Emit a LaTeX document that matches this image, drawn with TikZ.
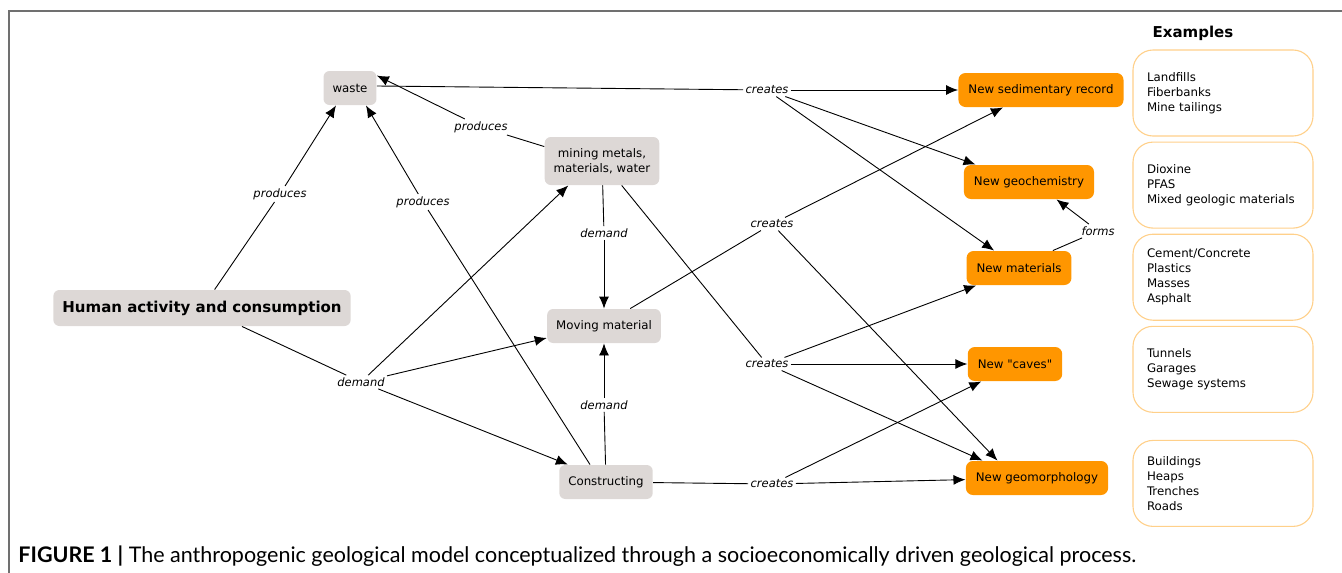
\documentclass[tikz,border=0pt]{standalone}
\usepackage{fontspec}
\setmainfont{DejaVu Sans}
\newfontfamily\capfont{Lato}
\usetikzlibrary{positioning, arrows.meta}
\definecolor{boxgray}{HTML}{DDD8D6}
\definecolor{neworange}{HTML}{FF9600}
\definecolor{exborder}{HTML}{FFD08A}
\definecolor{framegray}{HTML}{707070}

\begin{document}
\begin{tikzpicture}[x=1pt, y=-1pt, font=\fontsize{11.8}{15}\selectfont, line width=0.9pt]
	\tikzstyle{arrowline}=[draw, -{Latex[length=12pt, width=10pt]}]
	\tikzstyle{plainline}=[draw]
	\tikzstyle{gbox}=[fill=boxgray, rounded corners=6pt, inner xsep=9pt, minimum height=34pt, align=center]
	\tikzstyle{obox}=[fill=neworange, rounded corners=7pt, inner xsep=10pt, minimum height=34pt]
	\tikzstyle{exbox}=[draw=exborder, line width=1.1pt, rounded corners=20pt, text width=152pt, inner xsep=14pt, minimum height=86pt, align=left]
	\tikzstyle{lbl}=[font=\itshape\fontsize{11.5}{13}\selectfont, fill=white, inner sep=2pt]

	\useasboundingbox (0,0) rectangle (1342,573);
	\draw[framegray, line width=1.4pt] (1342,11) -- (9,11) -- (9,573);

	% activity side
	\node[gbox] (waste) at (350,88) {waste};
	\node[gbox, minimum height=48pt] (mining) at (602,161) {mining metals,\\ materials, water};
	\node[gbox, font=\bfseries\fontsize{15}{17}\selectfont, minimum height=36pt] (human) at (202,308) {Human activity and consumption};
	\node[gbox] (moving) at (604,326) {Moving material};
	\node[gbox] (constr) at (606,482) {Constructing};

	% new geology
	\node[obox] (sedim) at (1041,90) {New sedimentary record};
	\node[obox] (geochem) at (1029,182) {New geochemistry};
	\node[obox] (materials) at (1019,268) {New materials};
	\node[obox] (caves) at (1015,364) {New \textquotedbl caves\textquotedbl};
	\node[obox] (geomorph) at (1037,478) {New geomorphology};

	% examples
	\node[exbox] (ex1) at (1223,93) {Landfills\\Fiberbanks\\Mine tailings\\[14pt]};
	\node[exbox, below = 5pt of ex1] (ex2) {Dioxine\\PFAS\\Mixed geologic materials};
	\node[exbox, below = 5pt of ex2] (ex3) {Cement/Concrete\\Plastics\\Masses\\Asphalt};
	\node[exbox, below = 5pt of ex3] (ex4) {Tunnels\\Garages\\Sewage systems};
	\node[exbox, below = 27pt of ex4] (ex5) {Buildings\\Heaps\\Trenches\\Roads};
	\node[font=\bfseries\fontsize{15}{17}\selectfont, above = 5pt of ex1, xshift=-30pt] (extitle) {Examples};

	% link labels
	\node[lbl] (prodA) at (280,194) {produces};
	\node[lbl] (prodB) at (423,202) {produces};
	\node[lbl] (prodC) at (481,127) {produces};
	\node[lbl] (demA) at (361,382) {demand};
	\node[lbl] (demB) at (604,233) {demand};
	\node[lbl] (demC) at (604,405) {demand};
	\node[lbl] (creA) at (767,90) {creates};
	\node[lbl] (creB) at (772,224) {creates};
	\node[lbl] (creC) at (767,364) {creates};
	\node[lbl] (creD) at (772,484) {creates};
	\node[lbl] (forms) at (1098,231) {forms};

	% produces
	\path[plainline] (human) -- (prodA);
	\path[arrowline] (prodA) -- ([xshift=-14pt]waste.south);
	\path[plainline] ([xshift=-16pt]constr.north) -- (prodB);
	\path[arrowline] (prodB) -- ([xshift=16pt]waste.south);
	\path[plainline] ([yshift=-10pt]mining.north west) -- (prodC);
	\path[arrowline] (prodC) -- ([yshift=-5pt]waste.north east);

	% demand
	\path[plainline] ([xshift=40pt]human.south) -- (demA);
	\path[arrowline] (demA) -- ([xshift=24pt]mining.south west);
	\path[arrowline] (demA) -- ([yshift=-12pt]moving.west);
	\path[arrowline] (demA) -- ([xshift=9pt]constr.north west);
	\path[plainline] (mining) -- (demB);
	\path[arrowline] (demB) -- (moving);
	\path[plainline] (constr) -- (demC);
	\path[arrowline] (demC) -- (moving);

	% creates
	\path[plainline] ([yshift=2pt]waste.east) -- (creA);
	\path[arrowline] (creA) -- (sedim);
	\path[arrowline] (creA) -- ([xshift=12pt]geochem.north west);
	\path[arrowline] (creA) -- ([xshift=28pt]materials.north west);
	\path[plainline] ([xshift=-31pt]moving.north east) -- (creB);
	\path[arrowline] (creB) -- ([xshift=-38pt]sedim.south);
	\path[arrowline] (creB) -- ([xshift=32pt]geomorph.north west);
	\path[plainline] ([xshift=-38pt]mining.south east) -- (creC);
	\path[arrowline] (creC) -- ([xshift=10pt]materials.south west);
	\path[arrowline] (creC) -- (caves);
	\path[arrowline] (creC) -- ([xshift=17pt]geomorph.north west);
	\path[plainline] (constr) -- (creD);
	\path[arrowline] (creD) -- (geomorph);
	\path[arrowline] (creD) -- ([xshift=14pt]caves.south west);
	\path[plainline] ([xshift=-19pt]materials.north east) -- (forms);
	\path[arrowline] (forms) -- ([xshift=-38pt]geochem.south east);

	% caption
	\node[anchor=west, font=\capfont\fontsize{21.5}{24}\selectfont, inner sep=0pt] (caption) at (18,556) {\textbf{FIGURE 1 |} The anthropogenic geological model conceptualized through a socioeconomically driven geological process.};
\end{tikzpicture}
\end{document}
